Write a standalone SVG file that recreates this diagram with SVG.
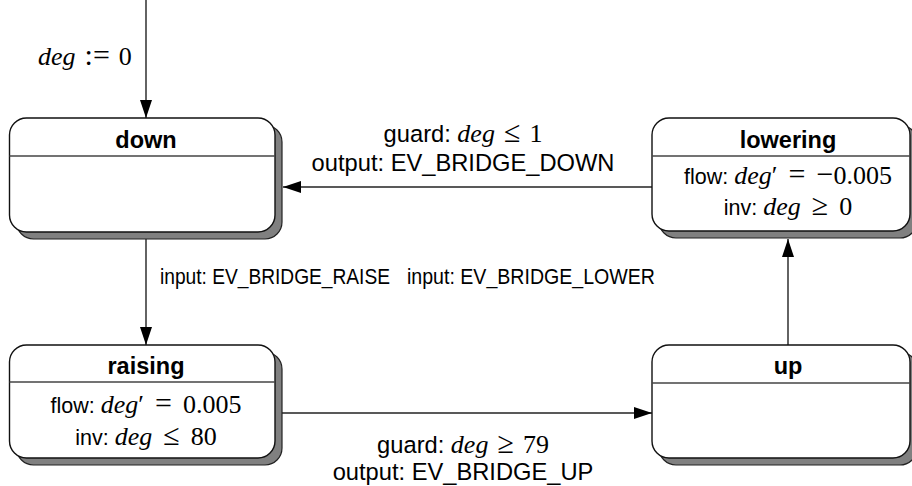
<svg xmlns="http://www.w3.org/2000/svg" width="912" height="486" viewBox="0 0 912 486">
  <defs>
    <marker id="arrow" viewBox="0 0 18 12" refX="18" refY="6" markerWidth="18" markerHeight="12" markerUnits="userSpaceOnUse" orient="auto">
      <path d="M0,0 L18,6 L0,12 Z" fill="#000"/>
    </marker>
  </defs>
  <style>
    .shadow { fill: #808080; stroke: #222; stroke-width: 1.2; }
    .box { fill: #fff; stroke: #111; stroke-width: 1.4; }
    .sep { stroke: #444; stroke-width: 1.4; }
    .title { font-family: "Liberation Sans", Arial, sans-serif; font-weight: bold; font-size: 23.5px; text-anchor: middle; fill: #000; }
    .body { font-family: "Liberation Sans", Arial, sans-serif; font-size: 21.5px; text-anchor: middle; fill: #000; }
    .lbl { font-family: "Liberation Sans", Arial, sans-serif; font-size: 23.7px; text-anchor: middle; fill: #000; }
    .in { font-family: "Liberation Sans", Arial, sans-serif; font-size: 20px; fill: #000; }
    .m { font-family: "Liberation Serif", "Times New Roman", serif; font-size: 26px; }
    .mi { font-family: "Liberation Serif", "Times New Roman", serif; font-size: 26px; font-style: italic; }
    .rel { font-family: "Liberation Serif", "Times New Roman", serif; font-size: 30px; }
    .edge { fill: none; stroke: #222; stroke-width: 1.4; marker-end: url(#arrow); }
  </style>

  <!-- transitions -->
  <g id="connectors">
    <line class="edge" x1="146" y1="0" x2="146" y2="118"/>
    <line class="edge" x1="146" y1="239" x2="146" y2="345"/>
    <line class="edge" x1="652" y1="187" x2="283" y2="187"/>
    <line class="edge" x1="282" y1="413" x2="652" y2="413"/>
    <line class="edge" x1="788" y1="345" x2="788" y2="239"/>

    <text x="38" y="65"><tspan class="mi">deg</tspan><tspan class="rel" dx="9">:=</tspan><tspan class="m" dx="9">0</tspan></text>

    <text class="lbl" x="463" y="142">guard: <tspan class="mi">deg</tspan><tspan class="rel" dx="9">≤</tspan><tspan class="m" dx="9">1</tspan></text>
    <text class="lbl" x="463" y="171">output: EV_BRIDGE_DOWN</text>

    <text class="in" x="160" y="284" textLength="230" lengthAdjust="spacingAndGlyphs" transform="translate(160 284) scale(1 1.12) translate(-160 -284)">input: EV_BRIDGE_RAISE</text>
    <text class="in" x="407" y="284" textLength="248" lengthAdjust="spacingAndGlyphs" transform="translate(407 284) scale(1 1.12) translate(-407 -284)">input: EV_BRIDGE_LOWER</text>

    <text class="lbl" x="463" y="453">guard: <tspan class="mi">deg</tspan><tspan class="rel" dx="9">≥</tspan><tspan class="m" dx="9">79</tspan></text>
    <text class="lbl" x="463" y="480">output: EV_BRIDGE_UP</text>
  </g>

  <!-- states -->
  <g id="down">
    <rect class="shadow" x="16.5" y="125" width="265.5" height="114" rx="17"/>
    <rect class="box" x="9.5" y="118" width="265.5" height="114" rx="17"/>
    <line class="sep" x1="9.5" y1="156" x2="275" y2="156"/>
    <text class="title" x="146" y="148">down</text>
  </g>

  <g id="lowering">
    <rect class="shadow" x="659" y="125" width="258" height="113" rx="17"/>
    <rect class="box" x="652" y="118" width="258" height="113" rx="17"/>
    <line class="sep" x1="652" y1="156" x2="910" y2="156"/>
    <text class="title" x="788" y="148">lowering</text>
    <text class="body" x="788" y="184">flow: <tspan class="mi">deg</tspan><tspan class="m">′</tspan><tspan class="rel" dx="11">=</tspan><tspan class="rel" dx="11">−</tspan><tspan class="m">0.005</tspan></text>
    <text class="body" x="788" y="215">inv: <tspan class="mi">deg</tspan><tspan class="rel" dx="11">≥</tspan><tspan class="m" dx="11">0</tspan></text>
  </g>

  <g id="raising">
    <rect class="shadow" x="16.5" y="352" width="265.5" height="113" rx="17"/>
    <rect class="box" x="9.5" y="345" width="265.5" height="113" rx="17"/>
    <line class="sep" x1="9.5" y1="382" x2="275" y2="382"/>
    <text class="title" x="146" y="374">raising</text>
    <text class="body" x="146" y="413">flow: <tspan class="mi">deg</tspan><tspan class="m">′</tspan><tspan class="rel" dx="11">=</tspan><tspan class="m" dx="11">0.005</tspan></text>
    <text class="body" x="146" y="445">inv: <tspan class="mi">deg</tspan><tspan class="rel" dx="11">≤</tspan><tspan class="m" dx="11">80</tspan></text>
  </g>

  <g id="up">
    <rect class="shadow" x="659" y="352" width="258" height="113" rx="17"/>
    <rect class="box" x="652" y="345" width="258" height="113" rx="17"/>
    <line class="sep" x1="652" y1="383" x2="910" y2="383"/>
    <text class="title" x="788" y="374">up</text>
  </g>
</svg>
